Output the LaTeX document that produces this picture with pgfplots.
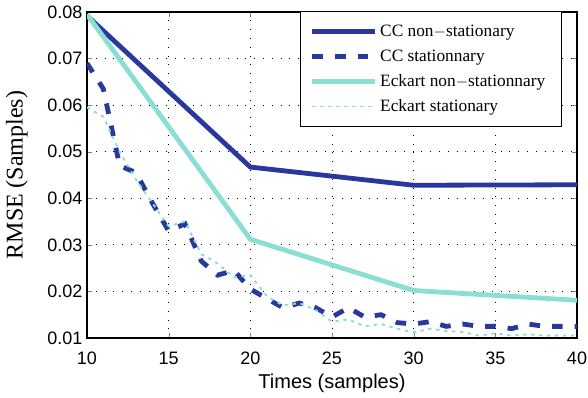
\documentclass[border=0pt]{standalone}
\usepackage{pgfplots}
\pgfplotsset{compat=1.18}
\usepackage{fontspec}
\setmainfont{Liberation Serif}
\newfontfamily\helv{Liberation Sans}
\definecolor{ccblue}{RGB}{40,56,156}
\definecolor{ekcyan}{RGB}{138,222,212}
\newcommand{\legbox}[1]{\makebox[127pt][l]{#1}}
\begin{document}
\begin{tikzpicture}[x=1pt,y=1pt]
\begin{axis}[
  scale only axis,
  width=367.5pt, height=244.5pt,
  xmin=10, xmax=40, ymin=0.01, ymax=0.08,
  xtick={10,15,...,40},
  ytick={0.01,0.02,...,0.08},
  yticklabel style={/pgf/number format/fixed,/pgf/number format/precision=2,/pgf/number format/fixed zerofill},
  xticklabel style={yshift=-7pt},
  /pgf/number format/assume math mode=true,
  tick label style={font=\helv\fontsize{13.5}{15}\selectfont},
  scaled y ticks=false,
  tick align=inside,
  major tick length=4pt,
  xtick pos=both, ytick pos=both,
  grid=major,
  major grid style={black, line width=0.6pt, dash pattern=on 0.6pt off 6pt},
  axis line style={line width=0.8pt},
  xlabel={\helv\fontsize{15}{17}\selectfont Times (samples)},
  ylabel={\fontsize{18}{20}\selectfont RMSE (Samples)},
  xlabel style={at={(axis description cs:0.5,-0.14)}, anchor=center},
  ylabel style={at={(axis description cs:-0.143,0.5)}, anchor=center},
  legend style={at={(0.994,0.999)}, anchor=north east, xshift=-9pt, yshift=1pt, font=\fontsize{13}{15}\selectfont, draw=black, line width=0.8pt, inner xsep=7pt, inner ysep=8pt, row sep=4.4pt, cells={anchor=west}},
  legend image code/.code={\draw[#1] (0pt,0pt) -- (47pt,0pt);},
]
\addplot[color=ccblue, line width=3.6pt] coordinates {(10,0.0792) (20,0.0467) (30,0.0428) (40,0.0429)};
\addlegendentry{\legbox{CC non$-$stationary}}
\addplot[color=ccblue, line width=3.6pt, dash pattern=on 8pt off 9pt] coordinates {
(10,0.069) (11,0.0635) (12,0.047) (13,0.0455) (14,0.039) (15,0.033) (16,0.0345) (17,0.0265) (18,0.0235) (19,0.0245) (20,0.0205)
(21,0.0185) (22,0.0165) (23,0.0175) (24,0.0165) (25,0.0145) (26,0.0165) (27,0.0145) (28,0.015) (29,0.0133) (30,0.013)
(31,0.0135) (32,0.0125) (33,0.013) (34,0.0125) (35,0.0125) (36,0.012) (37,0.013) (38,0.0125) (39,0.0125) (40,0.0125)};
\addlegendentry{\legbox{CC stationnary}}
\addplot[color=ekcyan, line width=3.6pt] coordinates {(10,0.0795) (20,0.0312) (30,0.0202) (40,0.0181)};
\addlegendentry{\legbox{Eckart non$-$stationnary}}
\addplot[color=ekcyan, line width=1.4pt, dash pattern=on 2.5pt off 3.5pt] coordinates {
(10,0.0595) (11,0.0575) (12,0.050) (13,0.044) (14,0.039) (15,0.034) (16,0.035) (17,0.028) (18,0.026) (19,0.023) (20,0.0235)
(21,0.019) (22,0.017) (23,0.0175) (24,0.016) (25,0.0135) (26,0.014) (27,0.0125) (28,0.013) (29,0.012) (30,0.0112)
(31,0.012) (32,0.0115) (33,0.0113) (34,0.0105) (35,0.011) (36,0.0105) (37,0.0108) (38,0.0105) (39,0.0105) (40,0.0105)};
\addlegendentry{\legbox{Eckart stationary}}
\end{axis}
\pgfresetboundingbox
\path (current axis.south west) ++(-65.25pt,-45pt) coordinate (bl);
\path (current axis.north east) ++(8.25pt,9pt) coordinate (tr);
\path[use as bounding box] (bl) rectangle (tr);
\end{tikzpicture}
\end{document}
